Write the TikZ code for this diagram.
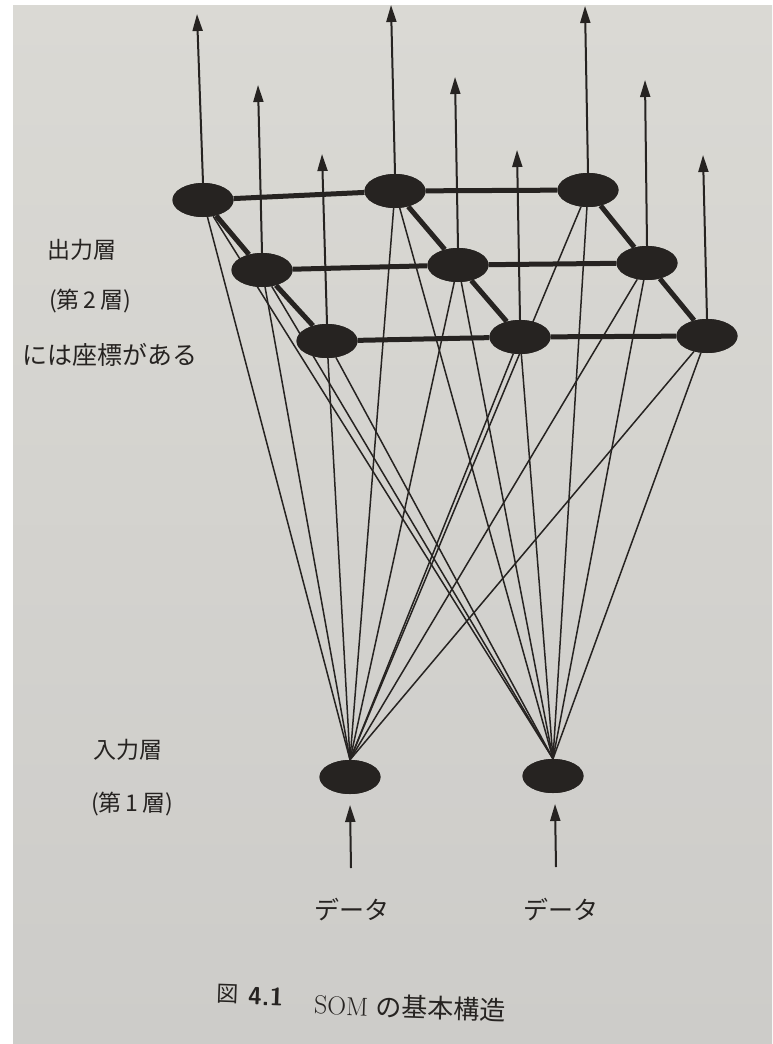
\documentclass[tikz,border=0pt]{standalone}
\usepackage{fontspec}
\newfontfamily\jp{Noto Sans CJK JP}
\usetikzlibrary{shapes.geometric,arrows.meta}
\definecolor{ink}{HTML}{262321}
\definecolor{paperT}{HTML}{DAD9D4}
\definecolor{paperB}{HTML}{CDCCC9}
\begin{document}
\begin{tikzpicture}[x=1pt,y=-1pt,
  neuron/.style={ellipse,fill=ink,draw=none,minimum width=61pt,minimum height=34pt,inner sep=0pt},
  gridline/.style={draw=ink,line width=5pt},
  link/.style={draw=ink,line width=1.5pt},
  outarrow/.style={draw=ink,line width=2pt,-{Triangle[length=17pt,width=10pt]}},
  lbl/.style={text=ink,font=\jp\fontsize{23}{27}\selectfont,inner sep=0pt}
]
\useasboundingbox (0,0) rectangle (772,1044);
\fill[white] (0,0) rectangle (772,1044);
\shade[top color=paperT,bottom color=paperB] (13,5) rectangle (772,1044);

% output layer
\node[neuron] (o11) at (203,200) {};
\node[neuron] (o12) at (395,191) {};
\node[neuron] (o13) at (588,190) {};
\node[neuron] (o21) at (262,270) {};
\node[neuron] (o22) at (458,265) {};
\node[neuron] (o23) at (647,263) {};
\node[neuron] (o31) at (327,341) {};
\node[neuron] (o32) at (520,337) {};
\node[neuron] (o33) at (707,336) {};
% input layer
\node[neuron] (in1) at (350,777) {};
\node[neuron] (in2) at (553,776) {};

% connections input -> output
\foreach \i in {in1,in2}{
  \foreach \o in {o11,o12,o13,o21,o22,o23,o31,o32,o33}{
    \draw[link] (\i.north) -- (\o);
  }
}

% grid
\draw[gridline] (o11) -- (o12) -- (o13);
\draw[gridline] (o21) -- (o22) -- (o23);
\draw[gridline] (o31) -- (o32) -- (o33);
\draw[gridline] (o11) -- (o21) -- (o31);
\draw[gridline] (o12) -- (o22) -- (o32);
\draw[gridline] (o13) -- (o23) -- (o33);

% redraw nodes on top
\foreach \n in {o11,o12,o13,o21,o22,o23,o31,o32,o33,in1,in2}{
  \fill[ink] (\n.center) ellipse (30.5pt and 17pt);
}

% output arrows
\coordinate (t11) at (197,14);
\coordinate (t12) at (391,5);
\coordinate (t13) at (585,6);
\coordinate (t21) at (258,85);
\coordinate (t22) at (455,77);
\coordinate (t23) at (645,80);
\coordinate (t31) at (322,154);
\coordinate (t32) at (517,150);
\coordinate (t33) at (703,155);
\foreach \n in {11,12,13,21,22,23,31,32,33}{
  \draw[outarrow] (o\n.north) -- (t\n);
}

% input arrows
\coordinate (d1) at (351,868);
\coordinate (e1) at (350,805);
\coordinate (d2) at (556,867);
\coordinate (e2) at (555,804);
\draw[outarrow] (d1) -- (e1);
\draw[outarrow] (d2) -- (e2);

% labels
\node[lbl] (lout1) at (82,250) {出力層};
\node[lbl] (lout2) at (90,301) {(第\,2\,層)};
\node[lbl,font=\jp\fontsize{25}{29}\selectfont] (lout3) at (110,355) {には座標がある};
\node[lbl] (lin1) at (128,750) {入力層};
\node[lbl] (lin2) at (132,804) {(第\,1\,層)};
\node[lbl,font=\jp\fontsize{25}{29}\selectfont] (data1) at (352,910) {データ};
\node[lbl,font=\jp\fontsize{25}{29}\selectfont] (data2) at (561,910) {データ};

% caption
\node[lbl,rotate=-2,anchor=west,font=\jp\fontsize{22}{26}\selectfont] (cap1) at (217,994) {図};
\node[lbl,rotate=-2,anchor=west,font=\sffamily\bfseries\fontsize{25}{29}\selectfont] (cap2) at (248,996) {4.1};
\node[lbl,rotate=-2,anchor=west,font=\fontsize{26}{30}\selectfont] (cap3) at (314,1004) {SOM\ {\jp の基本構造}};
\end{tikzpicture}
\end{document}
